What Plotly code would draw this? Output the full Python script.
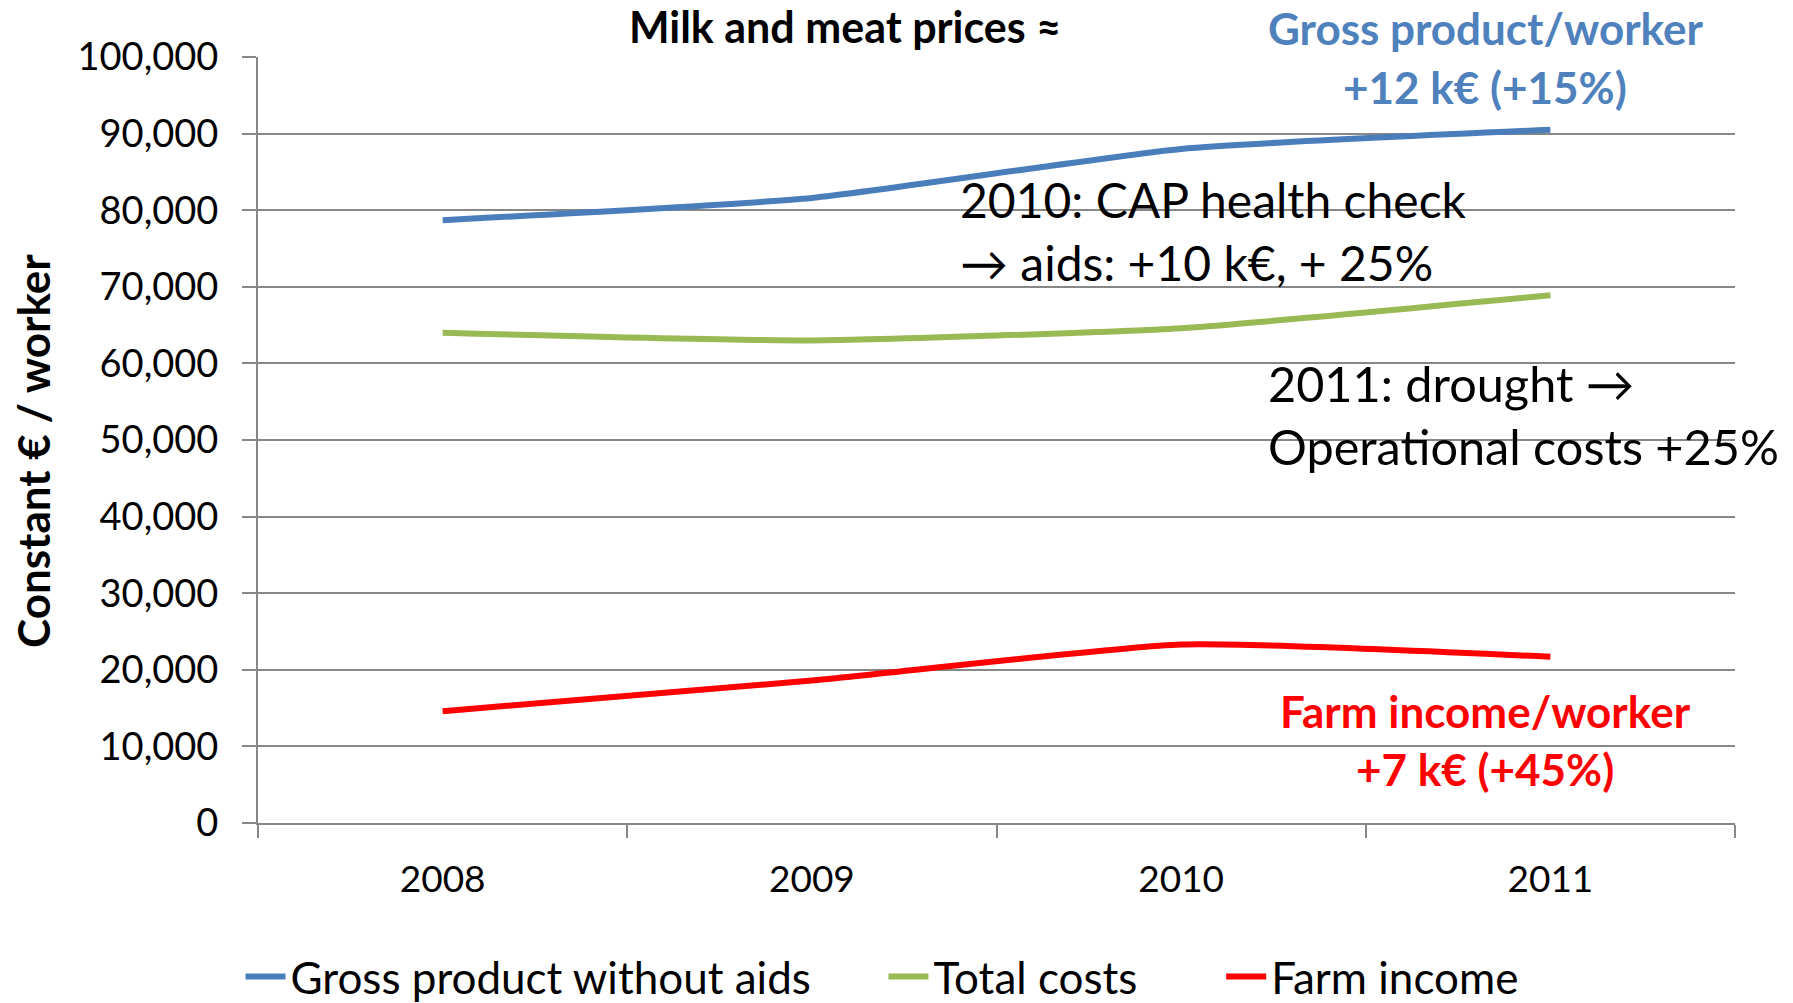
import plotly.graph_objects as go

years = ["2008", "2009", "2010", "2011"]
gross_product = [78700, 81600, 88000, 90500]
total_costs = [64000, 63000, 64600, 68900]
farm_income = [14600, 18600, 23300, 21700]
y_ticks = list(range(0, 100001, 10000))

FONT = "Lato"
BLUE = "#4A7EBB"
GREEN = "#98B954"
RED = "#FF0000"
GRID = "#878787"

fig = go.Figure()
for name, vals, col in [("Gross product without aids" + "\u00a0" * 6, gross_product, BLUE),
                        ("Total costs" + "\u00a0" * 7, total_costs, GREEN),
                        ("Farm income", farm_income, RED)]:
    fig.add_trace(go.Scatter(x=years, y=vals, name=name, mode="lines",
                             line=dict(color=col, width=6, shape="spline", smoothing=0.5)))

W, H = 1793, 1003
L, R, T, B = 258, 58, 57, 180
pw, ph = W - L - R, H - T - B

def px(x):
    return (x - L) / pw

def py(y):
    return (H - B - y) / ph

ann = [
    ("<b>Gross product/worker</b>", 1485, 28, "center", "#4F81BD", 44),
    ("<b>+12 k€ (+15%)</b>", 1485, 87, "center", "#4F81BD", 44),
    ("2010: CAP health check", 958, 199, "left", "black", 48),
    ("→ aids: +10 k€, + 25%", 958, 262, "left", "black", 48),
    ("2011: drought →", 1266, 383, "left", "black", 48.6),
    ("Operational costs +25%", 1266, 446, "left", "black", 48.6),
    ("<b>Farm income/worker</b>", 1485, 711, "center", RED, 44),
    ("<b>+7 k€ (+45%)</b>", 1485, 769, "center", RED, 44),
]
for text, x, y, anchor, col, size in ann:
    fig.add_annotation(text=text, x=px(x), y=py(y), xref="paper", yref="paper",
                       xanchor=anchor, yanchor="middle", showarrow=False,
                       font=dict(family=FONT, size=size, color=col))

# y-axis title
fig.add_annotation(text="<b>Constant € / worker</b>", x=px(33), y=py(451),
                   xref="paper", yref="paper", xanchor="center", yanchor="middle",
                   textangle=-90, showarrow=False,
                   font=dict(family=FONT, size=44, color="black"))

fig.update_layout(
    width=W, height=H,
    margin=dict(l=L, r=R, t=T, b=B, autoexpand=False),
    paper_bgcolor="white", plot_bgcolor="white",
    font=dict(family=FONT, color="black"),
    title=dict(text="<b>Milk and meat prices ≈</b>", x=845 / W, y=1 - 28 / H,
               xref="container", yref="container", xanchor="center", yanchor="middle",
               font=dict(family=FONT, size=43, color="black")),
    legend=dict(orientation="h", x=px(882), y=py(977), xanchor="center", yanchor="middle",
                font=dict(family=FONT, size=44, color="black"), itemwidth=40,
                bgcolor="rgba(0,0,0,0)"),
    xaxis=dict(type="category", range=[-0.5, 3.5], tickson="boundaries",
               showgrid=False, showline=True, linecolor=GRID, linewidth=2,
               ticks="outside", ticklen=13, tickwidth=2, tickcolor=GRID,
               ticklabelstandoff=23, tickfont=dict(family=FONT, size=37, color="black")),
    yaxis=dict(range=[0, 100000], tickvals=y_ticks, tickformat=",",
               showgrid=True, gridcolor=GRID, gridwidth=2, zeroline=False,
               showline=True, linecolor=GRID, linewidth=2,
               ticks="outside", ticklen=14, tickwidth=2, tickcolor=GRID,
               ticklabelstandoff=16, tickfont=dict(family=FONT, size=38, color="black")),
)

fig.write_html("out.html", config={"displayModeBar": False},
               post_script="document.body.style.margin='0';document.body.style.overflow='hidden';")
